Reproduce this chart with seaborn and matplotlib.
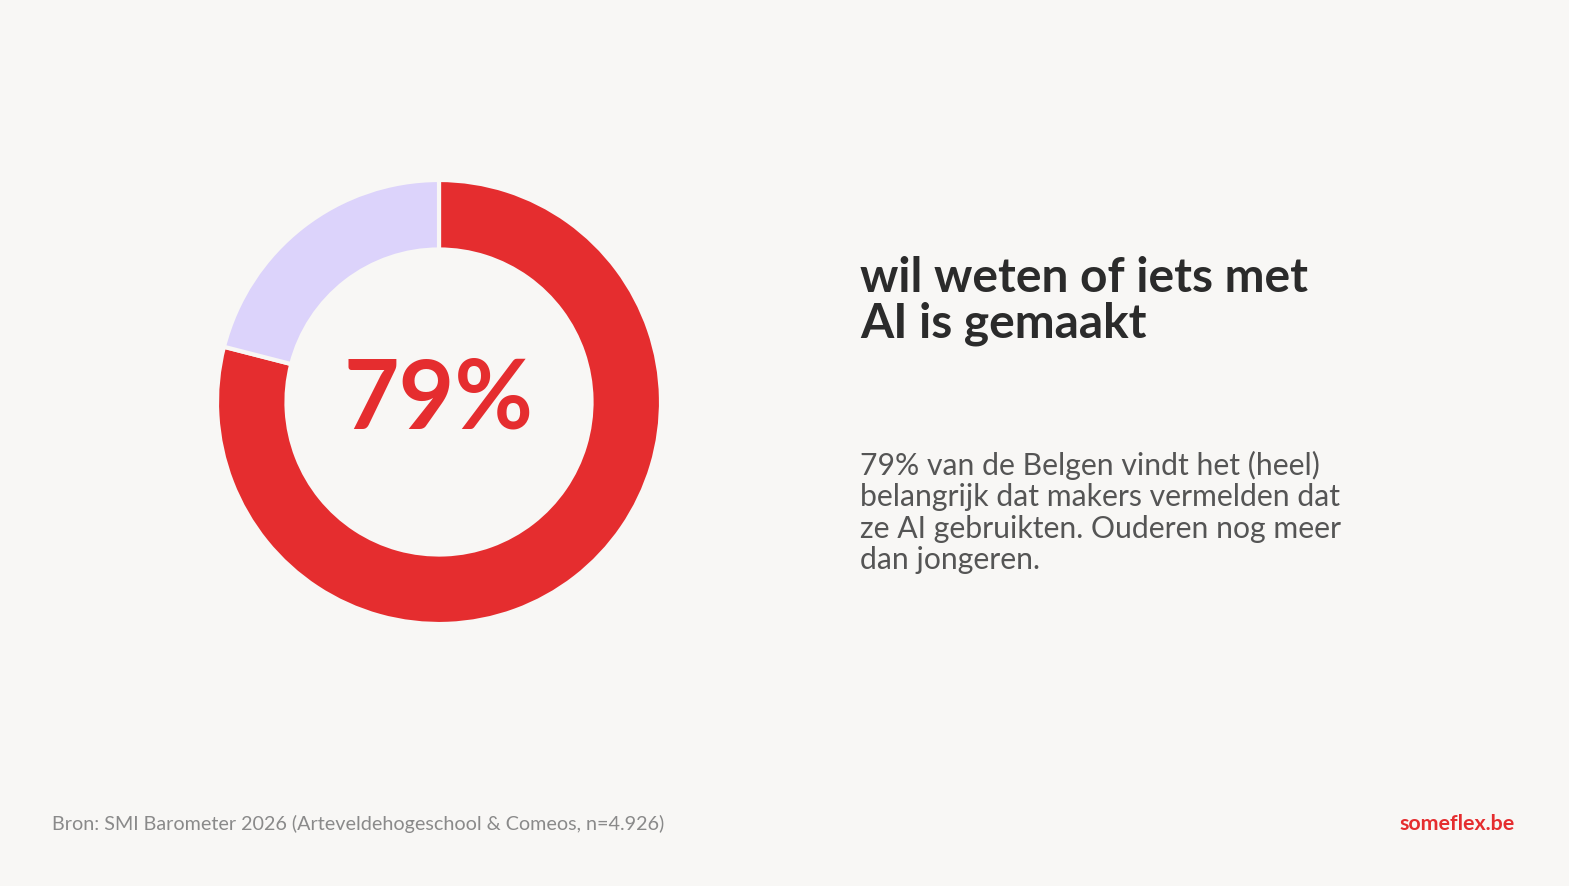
import matplotlib
matplotlib.use('Agg')
import matplotlib.pyplot as plt
import seaborn as sns

# data
labels = ['wil het weten', 'rest']
values = [79, 21]
colors = ['#E52D2F', '#DCD3FB']

big_label = '79%'
title = 'wil weten of iets met\nAI is gemaakt'
body = ('79% van de Belgen vindt het (heel)\n'
        'belangrijk dat makers vermelden dat\n'
        'ze AI gebruikten. Ouderen nog meer\n'
        'dan jongeren.')
source = 'Bron: SMI Barometer 2026 (Arteveldehogeschool & Comeos, n=4.926)'
brand = 'someflex.be'

bg = '#F8F7F5'
W, H = 1569, 887

sns.set_theme(style='white')
plt.rcParams['font.family'] = ['Lato', 'DejaVu Sans']

fig = plt.figure(figsize=(W / 100, H / 100), dpi=100)
fig.patch.set_facecolor(bg)

# donut: centre (439, 403) px, radius 222 px (edge line eats ~2 px)
cx, cy, r = 439, 403, 222
ax = fig.add_axes([(cx - r) / W, (H - cy - r) / H, 2 * r / W, 2 * r / H])
ax.set_facecolor(bg)
ax.pie(values, colors=colors, startangle=90, counterclock=False, radius=1,
       wedgeprops=dict(width=0.313, edgecolor=bg, linewidth=3))
ax.set_xlim(-1, 1)
ax.set_ylim(-1, 1)
ax.axis('off')
ax.text(0, 0.01, big_label, ha='center', va='center', fontsize=69,
        fontweight='bold', color=colors[0])

# right-hand texts (va='baseline' -> last line sits on y)
fig.text(860 / W, 1 - 337 / H, title, ha='left', va='baseline', fontsize=34.5,
         fontweight='bold', color='#2B2B2B', linespacing=1.03)
fig.text(860 / W, 1 - 569 / H, body, ha='left', va='baseline', fontsize=21.7,
         color='#555555', linespacing=1.15)

# footer
fig.text(52 / W, 1 - 824 / H, source, ha='left', va='center', fontsize=14.25,
         color='#8A8A8A')
fig.text(1515 / W, 1 - 824 / H, brand, ha='right', va='center', fontsize=15.4,
         fontweight='bold', color='#E52D2F')

fig.savefig('out.png', dpi=100, facecolor=bg)
